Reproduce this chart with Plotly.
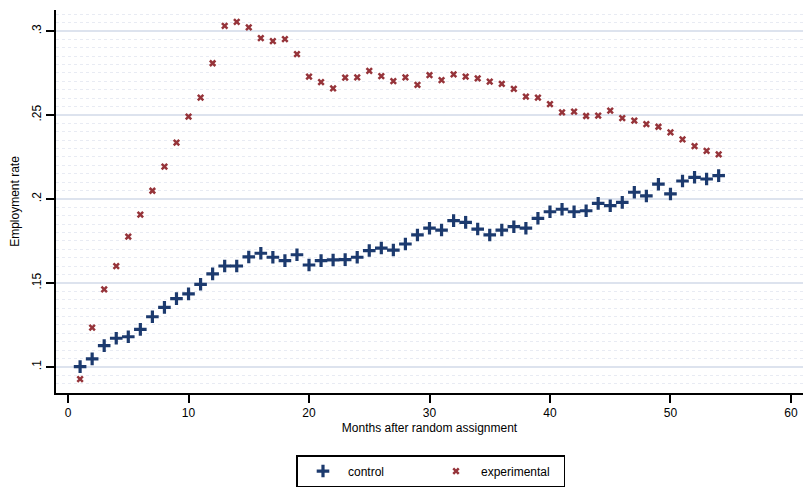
import plotly.graph_objects as go

months = list(range(1, 55))
control = [0.1002, 0.1048, 0.1127, 0.1171, 0.1180, 0.1224, 0.1299, 0.1355, 0.1407, 0.1435,
           0.1492, 0.1554, 0.1601, 0.1601, 0.1655, 0.1677, 0.1653, 0.1633, 0.1668, 0.1607,
           0.1633, 0.1637, 0.1639, 0.1653, 0.1693, 0.1708, 0.1696, 0.1732, 0.1786, 0.1826,
           0.1815, 0.1871, 0.1861, 0.1821, 0.1786, 0.1815, 0.1835, 0.1826, 0.1885, 0.1924,
           0.1939, 0.1924, 0.1930, 0.1974, 0.1960, 0.1980, 0.2040, 0.2018, 0.2088, 0.2030,
           0.2107, 0.2129, 0.2119, 0.2139]
experimental = [0.0927, 0.1234, 0.1462, 0.1601, 0.1776, 0.1907, 0.2049, 0.2192, 0.2335, 0.2490,
                0.2603, 0.2808, 0.3030, 0.3055, 0.3022, 0.2957, 0.2940, 0.2951, 0.2863, 0.2728,
                0.2696, 0.2659, 0.2722, 0.2724, 0.2762, 0.2732, 0.2702, 0.2724, 0.2679, 0.2738,
                0.2708, 0.2742, 0.2728, 0.2718, 0.2698, 0.2685, 0.2655, 0.2609, 0.2603, 0.2565,
                0.2516, 0.2520, 0.2494, 0.2496, 0.2526, 0.2482, 0.2466, 0.2445, 0.2430, 0.2397,
                0.2355, 0.2315, 0.2286, 0.2266]
y_tickvals = [0.1, 0.15, 0.2, 0.25, 0.3]
y_ticktext = [".1", ".15", ".2", ".25", ".3"]
x_tickvals = [0, 10, 20, 30, 40, 50, 60]

navy = "rgb(28,58,110)"
maroon = "rgb(150,52,58)"

fig = go.Figure()
fig.add_trace(go.Scatter(
    x=months, y=control, mode="markers", name="control",
    marker=dict(symbol="cross-thin", size=9, line=dict(width=3.2, color=navy), color=navy)))
fig.add_trace(go.Scatter(
    x=months, y=experimental, mode="markers", name="experimental",
    marker=dict(symbol="x-thin", size=5.5, line=dict(width=2.5, color=maroon), color=maroon)))

font = "Liberation Sans, Arial, sans-serif"
fig.update_layout(
    width=803, height=488,
    margin=dict(l=56, r=0, t=10, b=95, autoexpand=False),
    paper_bgcolor="white", plot_bgcolor="white",
    font=dict(family=font, size=12, color="black"),
    showlegend=True,
    legend=dict(orientation="h", x=0.502, xanchor="center", y=-0.162, yanchor="top",
                bordercolor="black", borderwidth=1.5, bgcolor="white",
                font=dict(size=12), tracegroupgap=0, itemwidth=40,
                entrywidthmode="pixels", entrywidth=78),
    xaxis=dict(range=[-1, 61], tickvals=x_tickvals, showgrid=False, zeroline=False,
               automargin=False,
               showline=True, linecolor="black", linewidth=2,
               ticks="outside", ticklen=8, tickwidth=2, tickcolor="black",
               tickfont=dict(size=12),
               title=dict(text="Months after random assignment", font=dict(size=12), standoff=4)),
    yaxis=dict(range=[0.0845, 0.3125], tickvals=y_tickvals, ticktext=y_ticktext,
               automargin=False,
               tickangle=-90, showgrid=True, gridcolor="rgb(221,227,238)", gridwidth=2,
               zeroline=False, showline=True, linecolor="black", linewidth=2,
               ticks="outside", ticklen=8, tickwidth=2, tickcolor="black",
               tickfont=dict(size=12),
               minor=dict(dtick=0.005, showgrid=True, gridcolor="rgb(232,235,243)",
                          griddash="dot", gridwidth=1, ticks=""),
               title=dict(text="Employment rate", font=dict(size=12), standoff=8)),
)

fig.write_html("out.html", config={"displayModeBar": False},
               post_script="document.body.style.margin='0';document.body.style.overflow='hidden';")
